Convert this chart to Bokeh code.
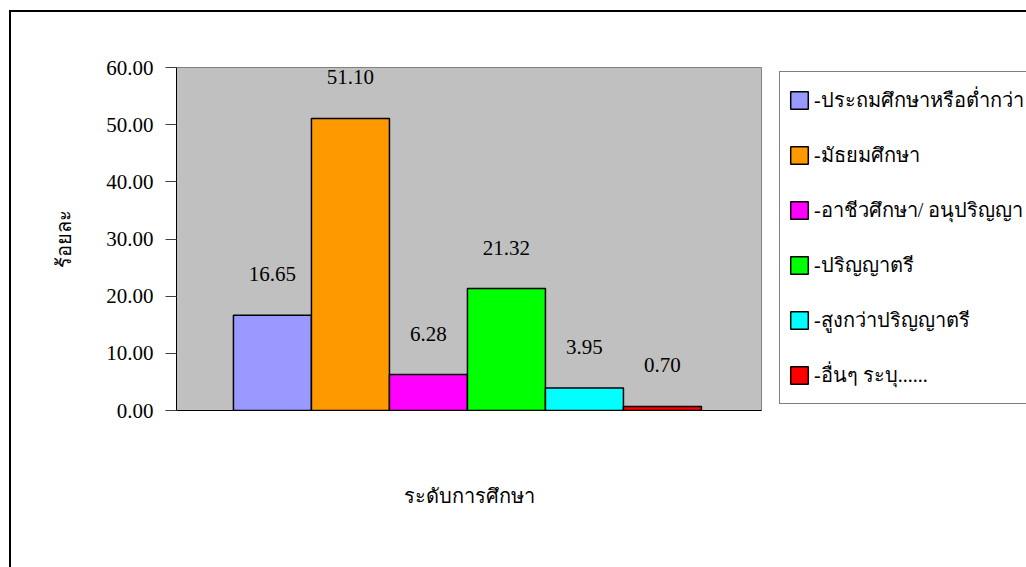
from bokeh.plotting import figure
from bokeh.models import (ColumnDataSource, Range1d, FixedTicker, PrintfTickFormatter,
                          LabelSet, Legend, LegendItem)
from bokeh.embed import file_html
from bokeh.resources import INLINE

categories = ["-ประถมศึกษาหรือต่ำกว่า", "-มัธยมศึกษา", "-อาชีวศึกษา/ อนุปริญญา",
              "-ปริญญาตรี", "-สูงกว่าปริญญาตรี", "-อื่นๆ ระบุ......"]
values = [16.65, 51.10, 6.28, 21.32, 3.95, 0.70]
colors = ["#9999FF", "#FF9900", "#FF00FF", "#00FF00", "#00FFFF", "#FF0000"]
y_ticks = [0, 10, 20, 30, 40, 50, 60]
x_title = "ระดับการศึกษา"
y_title = "ร้อยละ"

src = ColumnDataSource(dict(
    x=list(range(len(categories))),
    top=values,
    color=colors,
    cat=categories,
    lbl=[f"{v:.2f}" for v in values],
))

SERIF = "Liberation Serif"

p = figure(frame_width=585, frame_height=343,
           x_range=Range1d(-1.23, 6.27), y_range=Range1d(0, 60),
           min_border_left=165, min_border_right=0, min_border_top=55, min_border_bottom=157,
           output_backend="svg", toolbar_location=None,
           styles={"margin-left": "9px", "margin-top": "10px",
                   "border-left": "2px solid black", "border-top": "2px solid black"})

p.background_fill_color = "#C0C0C0"
p.border_fill_color = "white"
p.outline_line_color = "#808080"
p.outline_line_width = 1
p.xgrid.visible = False
p.ygrid.visible = False

r = p.vbar(x="x", top="top", width=1.0, source=src, fill_color="color",
           line_color="black", line_width=1.5)

# y axis
ya = p.yaxis[0]
ya.ticker = FixedTicker(ticks=y_ticks)
ya.formatter = PrintfTickFormatter(format="%.2f")
ya.major_tick_out = 11
ya.major_tick_in = 0
ya.minor_tick_line_color = None
ya.major_tick_line_color = "#404040"
ya.axis_line_color = "black"
ya.major_label_standoff = 12
ya.major_label_text_font = SERIF
ya.major_label_text_font_size = "21px"
ya.major_label_text_color = "black"
ya.axis_label = y_title
ya.axis_label_text_font = SERIF
ya.axis_label_text_font_size = "20px"
ya.axis_label_text_font_style = "normal"
ya.axis_label_text_color = "black"
ya.axis_label_standoff = 28

# x axis
xa = p.xaxis[0]
xa.ticker = FixedTicker(ticks=[])
xa.major_tick_line_color = None
xa.minor_tick_line_color = None
xa.major_label_text_font_size = "0px"
xa.axis_line_color = "black"
xa.axis_label = x_title
xa.axis_label_text_font = SERIF
xa.axis_label_text_font_size = "20px"
xa.axis_label_text_font_style = "normal"
xa.axis_label_text_color = "black"
xa.axis_label_standoff = 74

labels = LabelSet(x="x", y="top", text="lbl", source=src, y_offset=41,
                  text_align="center", text_baseline="middle",
                  text_font=SERIF, text_font_size="21px", text_color="black")
p.add_layout(labels)

items = [LegendItem(label=c, renderers=[r], index=i) for i, c in enumerate(categories)]
legend = Legend(items=items, location=(18, 6),
                padding=8, spacing=15, label_height=40, glyph_height=22, glyph_width=22,
                label_standoff=4, margin=0,
                label_text_font=SERIF, label_text_font_size="20px", label_text_color="black",
                border_line_color="black", border_line_width=1,
                background_fill_color="white", background_fill_alpha=1.0)
p.add_layout(legend, "right")

open("out.html", "w").write(file_html(p, INLINE))
